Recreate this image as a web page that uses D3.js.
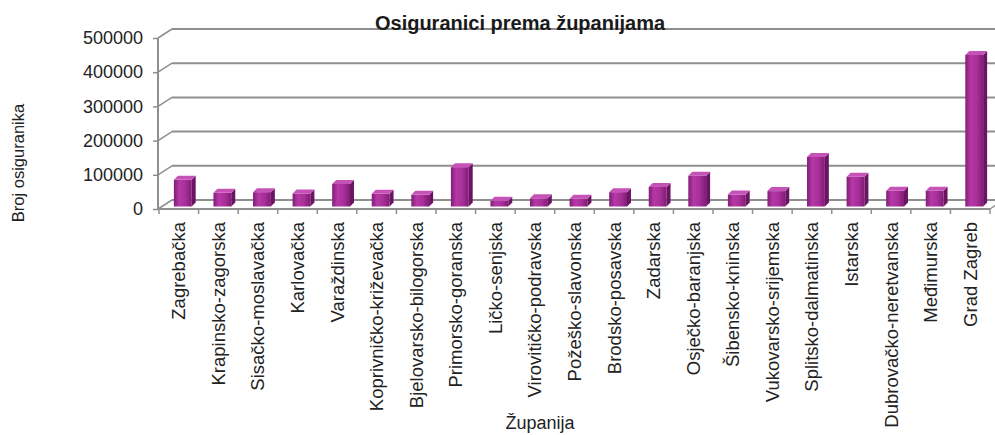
<!DOCTYPE html>
<html>
<head>
<meta charset="utf-8">
<script src="https://cdn.jsdelivr.net/npm/d3@7"></script>
<style>
  body { margin: 0; background: #fff; }
  svg { display: block; font-family: "Liberation Sans", Arial, sans-serif; }
</style>
</head>
<body>
<svg id="chart" width="995" height="435"></svg>
<script>
// zupanije, redoslijed kao na slici
var counties = ['Zagrebačka', 'Krapinsko-zagorska', 'Sisačko-moslavačka', 'Karlovačka', 'Varaždinska',
  'Koprivničko-križevačka', 'Bjelovarsko-bilogorska', 'Primorsko-goranska', 'Ličko-senjska',
  'Virovitičko-podravska', 'Požeško-slavonska', 'Brodsko-posavska', 'Zadarska', 'Osječko-baranjska',
  'Šibensko-kninska', 'Vukovarsko-srijemska', 'Splitsko-dalmatinska', 'Istarska',
  'Dubrovačko-neretvanska', 'Međimurska', 'Grad Zagreb'];
var insured = [78000, 40000, 42000, 38000, 66000, 37000, 34000, 115000, 17000, 24000, 23000,
  42000, 57000, 90000, 35000, 45000, 145000, 87000, 46000, 46000, 443000];
var yTicks = [0, 100000, 200000, 300000, 400000, 500000];

var svg = d3.select('#chart');
var plotL = 158, plotR = 990, plotB = 209, plotT = 38;
var depthX = 14, depthY = -9; // back wall offset
var barX = 4, barY = -2.5;    // bar front plane offset
var barDX = 4, barDY = -4;    // bar own depth

var x = d3.scaleBand().domain(counties).range([plotL + 1, plotR]).paddingInner(0.55).paddingOuter(0.275);
var xTick = d3.scaleBand().domain(counties).range([plotL + 1, plotR]);
var y = d3.scaleLinear().domain([0, 500000]).range([plotB, plotT]);
var grid = '#8f8f8f';

// gradient for bar fronts
var defs = svg.append('defs');
var grad = defs.append('linearGradient').attr('id', 'front').attr('x1', 0).attr('x2', 1).attr('y1', 0).attr('y2', 0);
[['0%', '#7f1e75'], ['30%', '#b538a6'], ['65%', '#a82f99'], ['100%', '#801c74']].forEach(function(s) {
  grad.append('stop').attr('offset', s[0]).attr('stop-color', s[1]);
});

// back wall gridlines
svg.append('g').selectAll('line').data(yTicks).enter().append('line')
  .attr('x1', plotL + depthX).attr('x2', 995)
  .attr('y1', function(d) { return y(d) + depthY; })
  .attr('y2', function(d) { return y(d) + depthY; })
  .attr('stroke', grid).attr('stroke-width', 2);

// side wall diagonals
svg.append('g').selectAll('line').data(yTicks).enter().append('line')
  .attr('x1', plotL).attr('x2', plotL + depthX)
  .attr('y1', function(d) { return y(d); })
  .attr('y2', function(d) { return y(d) + depthY; })
  .attr('stroke', grid).attr('stroke-width', 1.5);

// floor right edge
svg.append('line').attr('x1', plotR).attr('y1', plotB).attr('x2', plotR + 6).attr('y2', plotB - 4)
  .attr('stroke', grid).attr('stroke-width', 1.5);

// title (over the top gridline)
svg.append('text').attr('x', 520).attr('y', 30).attr('text-anchor', 'middle')
  .attr('font-size', 20).attr('font-weight', 'bold').attr('fill', '#1a1a1a')
  .text('Osiguranici prema županijama');

// bars
var bars = svg.append('g').selectAll('g').data(counties).enter().append('g');
function x0(c) { return x(c) + barX; }
function yt(i) { return y(insured[i]) + barY; }
var yb = plotB + barY;
bars.append('rect')
  .attr('x', x0).attr('y', function(c, i) { return yt(i); })
  .attr('width', x.bandwidth())
  .attr('height', function(c, i) { return yb - yt(i); })
  .attr('fill', 'url(#front)');
bars.append('path').attr('fill', '#6b1463').attr('d', function(c, i) {
  var xr = x0(c) + x.bandwidth(), t = yt(i);
  return 'M' + xr + ',' + t + 'L' + (xr + barDX) + ',' + (t + barDY) + 'L' + (xr + barDX) + ',' + (yb + barDY) + 'L' + xr + ',' + yb + 'Z';
});
bars.append('path').attr('fill', '#c552b6').attr('d', function(c, i) {
  var xl = x0(c), xr = xl + x.bandwidth(), t = yt(i);
  return 'M' + xl + ',' + t + 'L' + (xl + barDX) + ',' + (t + barDY) + 'L' + (xr + barDX) + ',' + (t + barDY) + 'L' + xr + ',' + t + 'Z';
});

// front axes
var yAxis = svg.append('g').attr('transform', 'translate(' + plotL + ',0)')
  .call(d3.axisLeft(y).tickValues(yTicks).tickSize(5).tickPadding(10).tickFormat(d3.format('d')));
yAxis.select('.domain').attr('stroke', grid).attr('stroke-width', 2).attr('d', 'M0,' + plotB + 'V' + plotT);
yAxis.selectAll('.tick line').attr('stroke', grid).attr('stroke-width', 1.5);
yAxis.selectAll('.tick text').attr('font-size', 18).attr('fill', '#222').attr('font-family', '"Liberation Sans", Arial, sans-serif');

var xAxis = svg.append('g').attr('transform', 'translate(0,' + plotB + ')');
xAxis.append('line').attr('x1', plotL).attr('x2', plotR).attr('stroke', grid).attr('stroke-width', 2);
xAxis.selectAll('.tk').data(counties.concat(['end'])).enter().append('line')
  .attr('x1', function(c, i) { return i < counties.length ? xTick(c) : plotR; })
  .attr('x2', function(c, i) { return i < counties.length ? xTick(c) : plotR; })
  .attr('y1', 0).attr('y2', 5).attr('stroke', grid).attr('stroke-width', 1.5);

// category labels
svg.append('g').selectAll('text').data(counties).enter().append('text')
  .attr('transform', function(c) { return 'translate(' + (xTick(c) + xTick.bandwidth() / 2) + ',222) rotate(-90)'; })
  .attr('dy', '0.35em').attr('text-anchor', 'end').attr('font-size', 18.5).attr('fill', '#222')
  .text(function(c) { return c; });

// axis titles
svg.append('text').attr('transform', 'translate(18,163) rotate(-90)').attr('dy', '0.35em')
  .attr('text-anchor', 'middle').attr('font-size', 16.5).attr('fill', '#222').text('Broj osiguranika');
svg.append('text').attr('x', 540).attr('y', 429).attr('text-anchor', 'middle')
  .attr('font-size', 18).attr('fill', '#222').text('Županija');
</script>
</body>
</html>
